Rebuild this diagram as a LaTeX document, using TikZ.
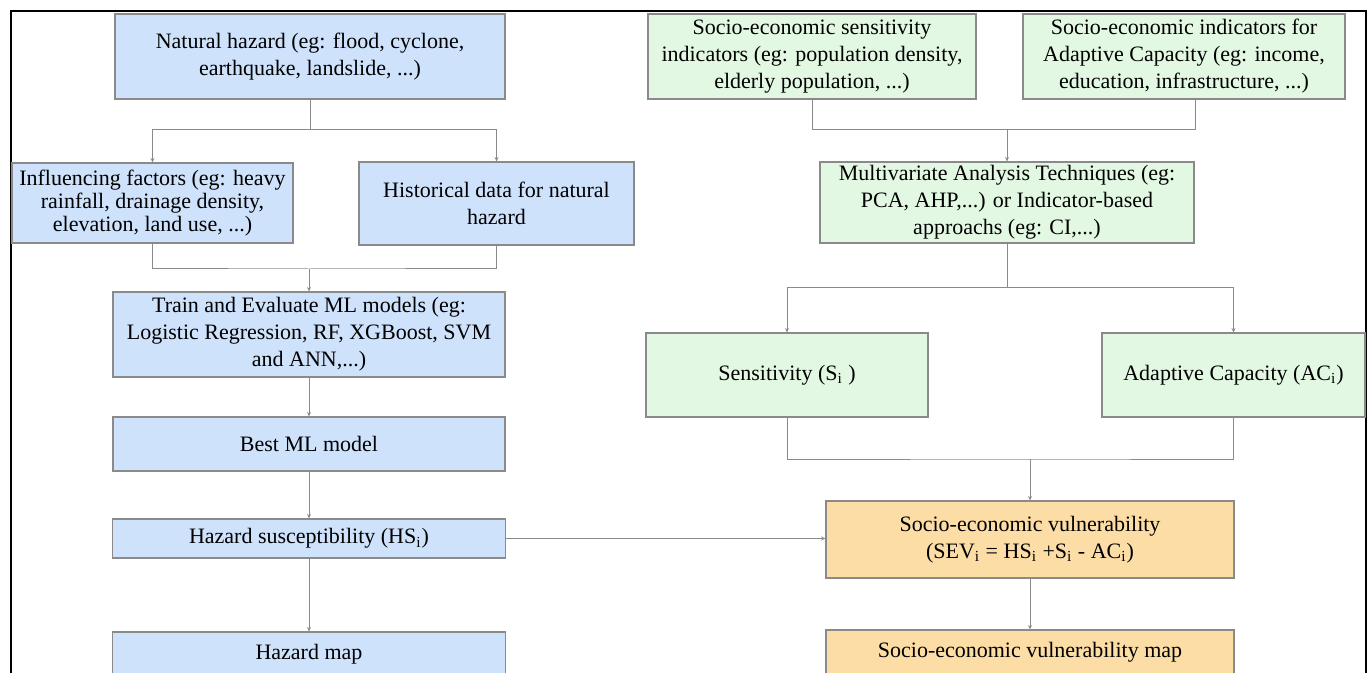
\documentclass[tikz,border=0pt]{standalone}
\usepackage{fontspec}
\setmainfont{Liberation Serif}
\usetikzlibrary{arrows.meta}

\definecolor{hazblue}{HTML}{CFE2FB}
\definecolor{sevgreen}{HTML}{E3F8E3}
\definecolor{sevorange}{HTML}{FDDDA6}
\definecolor{lingray}{HTML}{8A8A8A}

\begin{document}
\begin{tikzpicture}[x=0.5pt, y=-0.5pt,
    every node/.style={draw=lingray, line width=0.6pt, align=center, inner sep=0pt,
        font=\fontsize{11}{13.5}\selectfont},
    sz/.style 2 args={minimum width=#1, minimum height=#2},
    hz/.style={fill=hazblue}, se/.style={fill=sevgreen}, vu/.style={fill=sevorange},
    link/.style={draw=lingray, line width=0.5pt},
    arr/.style={link, -{Stealth[length=2.2pt,width=2pt]}}]
    \useasboundingbox (0,0) rectangle (1370,673);
    \clip (0,0) rectangle (1370,673);
    % frame
    \draw[line width=1.2pt] (11,690) -- (11,11) -- (1366,11) -- (1366,690);

    % hazard side
    \node[hz, sz={195pt}{42.5pt}] (haz) at (310,56.5) {Natural hazard (eg: flood, cyclone,\\ earthquake, landslide, ...)};
    \node[hz, sz={140.5pt}{40pt}, font=\fontsize{11}{11.5}\selectfont] (infl) at (152.5,203) {Influencing factors (eg: heavy\\ rainfall, drainage density,\\ elevation, land use, ...)};
    \node[hz, sz={137.5pt}{41.5pt}] (hist) at (496.5,203.5) {Historical data for natural\\ hazard};
    \node[hz, sz={196pt}{42.5pt}] (train) at (309,334.5) {Train and Evaluate ML models (eg:\\ Logistic Regression, RF, XGBoost, SVM\\ and ANN,...)};
    \node[hz, sz={196pt}{27pt}] (best) at (309,444) {Best ML model};
    \node[hz, sz={196.5pt}{19.5pt}] (hs) at (309,538.5) {Hazard susceptibility (HS\textsubscript{i})};
    \node[hz, sz={196.5pt}{22pt}] (hmap) at (309,654) {Hazard map};

    % socio-economic side
    \node[se, sz={164pt}{42.5pt}] (sens) at (812,56.5) {Socio-economic sensitivity\\ indicators (eg: population density,\\ elderly population, ...)};
    \node[se, sz={161pt}{42.5pt}] (adind) at (1184,56.5) {Socio-economic indicators for\\ Adaptive Capacity (eg: income,\\ education, infrastructure, ...)};
    \node[se, sz={187pt}{40.5pt}] (mva) at (1007,202.5) {Multivariate Analysis Techniques (eg:\\ PCA, AHP,...) or Indicator-based\\ approachs (eg: CI,...)};
    \node[se, sz={141pt}{42pt}] (si) at (787,375) {Sensitivity (S\textsubscript{i} )};
    \node[se, sz={131.5pt}{42pt}] (aci) at (1233.5,375) {Adaptive Capacity (AC\textsubscript{i})};
    \node[vu, sz={204pt}{38.5pt}] (sev) at (1030,539.5) {Socio-economic vulnerability\\ (SEV\textsubscript{i} = HS\textsubscript{i} +S\textsubscript{i} - AC\textsubscript{i})};
    \node[vu, sz={204pt}{22pt}] (smap) at (1030,652) {Socio-economic vulnerability map};

    % junctions
    \coordinate (j1) at (310,130);
    \coordinate (j2) at (309,269);
    \coordinate (j3) at (1007,130);
    \coordinate (j4) at (1007,288);
    \coordinate (j5) at (1030,459);

    \draw[link] (haz) -- (j1);
    \draw[arr] (j1) -| (infl);
    \draw[arr] (j1) -| (hist);
    \draw[link] (infl) |- (j2) -| (hist);
    \draw[arr] (j2) -- (train);

    \draw[link] (sens) |- (j3);
    \draw[link] ([xshift=5.5pt]adind.south) |- (j3);
    \draw[arr] (j3) -- (mva);
    \draw[link] (mva) -- (j4);
    \draw[arr] (j4) -| (si);
    \draw[arr] (j4) -| (aci);
    \draw[link] (si) |- (j5) -| (aci);
    \draw[arr] (j5) -- (sev);

    \foreach \a/\b in {train/best, best/hs, hs/hmap, sev/smap} {
        \draw[arr] (\a) -- (\b);
    }
    \draw[arr] (hs.east) -- (hs.east -| sev.west);
\end{tikzpicture}
\end{document}
